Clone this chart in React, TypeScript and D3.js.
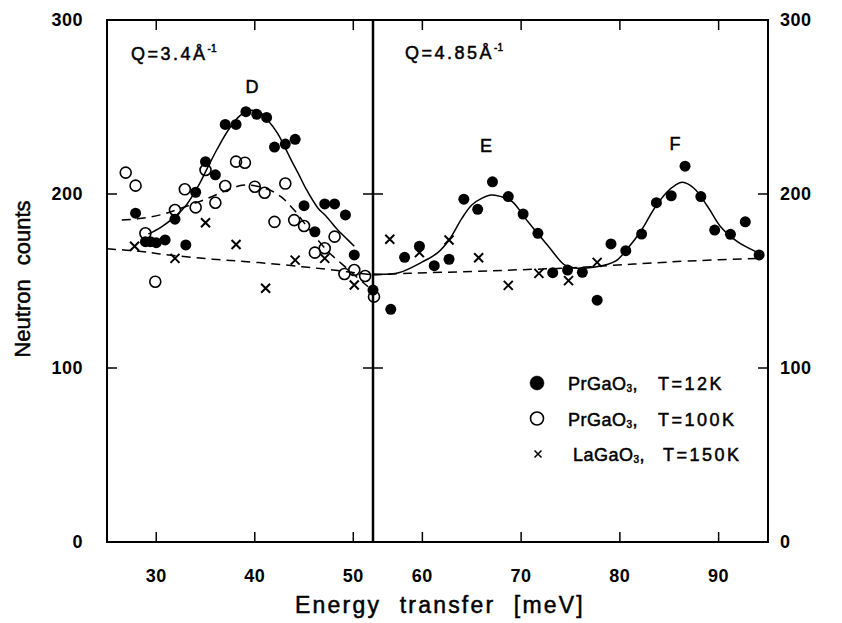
import React from "react";
import * as d3 from "d3";

// measured points [energy meV, counts]
const left12K: [number, number][] = [
  [27.9, 189], [28.9, 172.6], [29.4, 172.6], [30.0, 172], [30.9, 173.6],
  [31.9, 185.5], [33.0, 170.7], [34.0, 201], [35.0, 218.6], [36.0, 211],
  [37.0, 240], [38.1, 240], [39.1, 247.3], [40.2, 245.8], [41.2, 244],
  [42.0, 227], [43.1, 228.7], [44.1, 231.4], [45.0, 193.3], [46.1, 178.3],
  [47.1, 194.3], [48.1, 194.3], [49.2, 188], [50.1, 165], [52.0, 144.8],
];

const left100K: [number, number][] = [
  [26.9, 212.3], [27.9, 204.8], [28.9, 177.4], [29.9, 149.6], [31.9, 190.8],
  [32.9, 202.7], [34.0, 192.3], [35.0, 213.8], [36.0, 195], [37.0, 204.6],
  [38.1, 218.6], [39.0, 218], [40.0, 204.2], [41.0, 200.7], [42.0, 184],
  [43.1, 206], [44.0, 185], [45.0, 181.6], [46.1, 166.3], [47.1, 168.8],
  [48.1, 175.5], [49.1, 154], [50.1, 156.3], [51.2, 152.9], [52.1, 141],
];

const left150K: [number, number][] = [
  [27.8, 170], [31.9, 163], [35.0, 183.5], [38.1, 171], [41.1, 145.8],
  [44.1, 162], [47.1, 163], [50.1, 147.7],
];

const right12K: [number, number][] = [
  [56.8, 133.7], [58.2, 163.6], [59.7, 170], [61.2, 158.8], [62.7, 162.5],
  [64.2, 197], [65.6, 191.2], [67.1, 207], [68.7, 198.5], [70.2, 188.5],
  [71.7, 177.4], [73.2, 154.8], [74.7, 156.3], [76.2, 155], [77.7, 139],
  [79.1, 171.3], [80.6, 167.4], [82.2, 177], [83.7, 195], [85.2, 199],
  [86.6, 216], [88.2, 198.5], [89.6, 179.3], [91.2, 176.8], [92.7, 184],
  [94.1, 165],
];

const right150K: [number, number][] = [
  [56.7, 174], [59.7, 166.3], [62.7, 173.6], [65.7, 163.4], [68.7, 147.5],
  [71.8, 154.4], [74.8, 150.2], [77.7, 160.7],
];

// fitted curves
const fitD: [number, number][] = [
  [29.2, 177], [30.5, 181], [31.9, 187], [33.1, 194], [34.3, 205], [35.2, 215],
  [36.2, 226], [37.4, 237.5], [38.5, 245], [39.5, 248], [40.5, 247], [41.3, 242.5],
  [42.3, 235], [43.0, 227.5], [43.7, 219.5], [44.4, 212], [45.2, 203], [46.4, 192],
  [47.2, 187.5], [48.4, 179.5], [49.2, 175], [50.1, 170],
];

const fit100K: [number, number][] = [
  [26.5, 185], [28.5, 186], [30.4, 188], [32.1, 191], [35.0, 197], [37.4, 202.7],
  [38.7, 205], [39.6, 205], [41.2, 203], [42.65, 198.5], [44.0, 190.8], [45.2, 182],
  [46.4, 173.6], [47.6, 166], [48.8, 160], [50.2, 153], [51.5, 146.7],
];

const bgLeft: [number, number][] = [
  [25, 168.5], [28.5, 167], [30.4, 165.5], [33.9, 163.5], [36.2, 162.3],
  [38.3, 161.5], [41.6, 160], [44.8, 158.2], [47.2, 156.8], [52, 153.5],
];

const fitEF: [number, number][] = [
  [55, 154], [57.6, 154.8], [60, 161], [61.5, 166], [62.7, 173.6], [64, 186],
  [65, 193.7], [66, 197.5], [67, 199.4], [68, 198.5], [69.1, 195.6], [70.7, 184],
  [72.8, 169.7], [74.4, 159.2], [75.4, 157.5], [76.4, 157.3], [77.5, 158],
  [78.5, 159.2], [79.6, 161.5], [80.8, 168.8], [82.2, 179.3], [83.5, 191.8],
  [84.8, 201.3], [85.6, 205], [86.35, 206.7], [87.5, 203.3], [88.9, 192.7],
  [90.2, 181.2], [91.9, 172.6], [93, 169], [94.1, 165.9],
];

const bgRight: [number, number][] = [
  [55, 153.5], [58.7, 154.4], [65, 155.5], [70, 156.5], [75, 157.5],
  [79.8, 159.2], [82.8, 160.2], [87, 161.5], [93.9, 163],
];

const yTicks = [0, 100, 200, 300];
const xTicksLeft = [30, 40, 50];
const xTicksRight = [60, 70, 80, 90];

const legendRows = [
  { name: "PrGaO", cond: "T=12K", marker: "filled" },
  { name: "PrGaO", cond: "T=100K", marker: "open" },
  { name: "LaGaO", cond: "T=150K", marker: "cross" },
];

const FONT = "'Liberation Sans', Arial, Helvetica, sans-serif";

export default function App() {
  const left = 107, split = 373, right = 768, top = 20, bottom = 542;
  const xL = d3.scaleLinear().domain([25, 52]).range([left, split]);
  const xR = d3.scaleLinear().domain([55, 95]).range([split, right]);
  const y = d3.scaleLinear().domain([0, 300]).range([bottom, top]);

  const mkLine = (x: d3.ScaleLinear<number, number>) =>
    d3
      .line<[number, number]>()
      .x((d) => x(d[0]))
      .y((d) => y(d[1]))
      .curve(d3.curveCatmullRom.alpha(0.5));
  const pathL = mkLine(xL);
  const pathR = mkLine(xR);

  const tick = 10;
  const cross = (cx: number, cy: number, s = 4.5) =>
    `M${cx - s},${cy - s}L${cx + s},${cy + s}M${cx + s},${cy - s}L${cx - s},${cy + s}`;

  const txt = { stroke: "#000", strokeWidth: 0.5 };

  return (
    <svg
      width={842}
      height={623}
      style={{ position: "absolute", left: 0, top: 0, background: "#fff" }}
      fontFamily={FONT}
    >
      {/* curves */}
      <g fill="none" stroke="#000" strokeWidth={1.5}>
        <path d={pathL(fitD) || ""} />
        <path d={pathL(fit100K) || ""} strokeDasharray="9,6" />
        <path d={pathL(bgLeft) || ""} strokeDasharray="9,6" />
        <path d={pathR(fitEF) || ""} />
        <path d={pathR(bgRight) || ""} strokeDasharray="9,6" />
      </g>

      {/* markers */}
      <g>
        {left100K.map((d, i) => (
          <circle key={"o" + i} cx={xL(d[0])} cy={y(d[1])} r={5.5} fill="none" stroke="#000" strokeWidth={1.6} />
        ))}
        {left12K.map((d, i) => (
          <circle key={"f" + i} cx={xL(d[0])} cy={y(d[1])} r={5.5} fill="#000" />
        ))}
        {right12K.map((d, i) => (
          <circle key={"fr" + i} cx={xR(d[0])} cy={y(d[1])} r={5.5} fill="#000" />
        ))}
        {left150K.map((d, i) => (
          <path key={"x" + i} d={cross(xL(d[0]), y(d[1]))} stroke="#000" strokeWidth={2} />
        ))}
        {right150K.map((d, i) => (
          <path key={"xr" + i} d={cross(xR(d[0]), y(d[1]))} stroke="#000" strokeWidth={2} />
        ))}
      </g>

      {/* frame */}
      <g stroke="#000" fill="none">
        <rect x={left} y={top} width={right - left} height={bottom - top} strokeWidth={2} />
        <line x1={split} x2={split} y1={top} y2={bottom} strokeWidth={2.5} />
        {[100, 200].map((v) => (
          <g key={v} strokeWidth={1.5}>
            <line x1={left} x2={left + tick} y1={y(v)} y2={y(v)} />
            <line x1={right} x2={right - tick} y1={y(v)} y2={y(v)} />
            <line x1={split - tick} x2={split + tick} y1={y(v)} y2={y(v)} />
          </g>
        ))}
        {xTicksLeft.map((v) => (
          <g key={v} strokeWidth={1.5}>
            <line x1={xL(v)} x2={xL(v)} y1={bottom} y2={bottom - tick} />
            <line x1={xL(v)} x2={xL(v)} y1={top} y2={top + tick} />
          </g>
        ))}
        {xTicksRight.map((v) => (
          <g key={v} strokeWidth={1.5}>
            <line x1={xR(v)} x2={xR(v)} y1={bottom} y2={bottom - tick} />
            <line x1={xR(v)} x2={xR(v)} y1={top} y2={top + tick} />
          </g>
        ))}
      </g>

      {/* tick labels */}
      <g fontSize={18} fontWeight="bold" fill="#000" letterSpacing={0.5}>
        {yTicks.map((v) => (
          <text key={"l" + v} x={83} y={y(v)} dy="0.36em" textAnchor="end">{v}</text>
        ))}
        {yTicks.map((v) => (
          <text key={"r" + v} x={780} y={y(v)} dy="0.36em" textAnchor="start">{v}</text>
        ))}
        {xTicksLeft.map((v) => (
          <text key={"b" + v} x={xL(v)} y={582} textAnchor="middle">{v}</text>
        ))}
        {xTicksRight.map((v) => (
          <text key={"br" + v} x={xR(v)} y={582} textAnchor="middle">{v}</text>
        ))}
      </g>

      {/* axis titles */}
      <text x={440} y={613} fontSize={23} textAnchor="middle" letterSpacing={2.2} wordSpacing={10} {...txt}>
        Energy transfer [meV]
      </text>
      <text
        transform={`translate(30,${279}) rotate(-90)`}
        fontSize={22}
        textAnchor="middle"
        wordSpacing={8}
        {...txt}
      >
        Neutron counts
      </text>

      {/* panel annotations */}
      <g fontSize={18} {...txt}>
        <text x={131} y={60} letterSpacing={2.5}>
          Q=3.4Å<tspan fontSize={10} dy={-8} letterSpacing={0}>-1</tspan>
        </text>
        <text x={405} y={59} letterSpacing={2.5}>
          Q=4.85Å<tspan fontSize={10} dy={-8} letterSpacing={0}>-1</tspan>
        </text>
        <text x={252} y={93} textAnchor="middle">D</text>
        <text x={486} y={152} textAnchor="middle">E</text>
        <text x={675} y={150} textAnchor="middle">F</text>
      </g>

      {/* legend */}
      <g fontSize={18} {...txt}>
        {legendRows.map((r, i) => {
          const cy = 383 + i * 35.5;
          const tx = r.marker === "cross" ? 573 : 568;
          const cx2 = r.marker === "cross" ? 663 : 658;
          return (
            <g key={i}>
              {r.marker === "filled" && <circle cx={537} cy={cy} r={7} fill="#000" />}
              {r.marker === "open" && (
                <circle cx={537} cy={cy} r={6.5} fill="none" stroke="#000" strokeWidth={1.6} />
              )}
              {r.marker === "cross" && <path d={cross(538, cy, 3.5)} stroke="#000" strokeWidth={1.5} />}
              <text x={tx} y={cy + 7} letterSpacing={0.5}>
                {r.name}
                <tspan fontSize={10} dy={2}>3</tspan>
                <tspan dy={-2}>,</tspan>
              </text>
              <text x={cx2} y={cy + 7} letterSpacing={2.5}>{r.cond}</text>
            </g>
          );
        })}
      </g>
    </svg>
  );
}
